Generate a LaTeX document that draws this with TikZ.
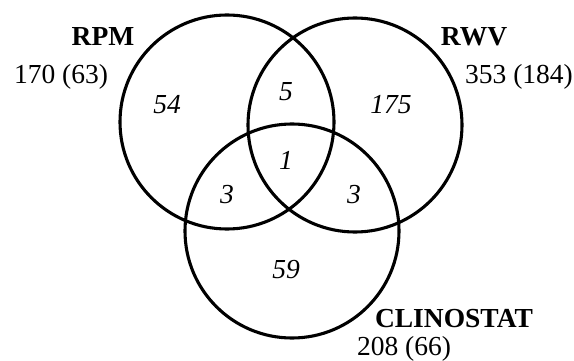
\documentclass[tikz,border=0pt]{standalone}
\usepackage{fontspec}
\setmainfont{Liberation Serif}
\begin{document}
\begin{tikzpicture}[x=1pt,y=-1pt,
  vennset/.style={circle,draw,line width=3.1pt,minimum size=214pt,inner sep=0pt},
  setname/.style={font=\fontsize{27.5}{31}\selectfont\bfseries,inner sep=0pt},
  settotal/.style={font=\fontsize{27.5}{31}\selectfont,inner sep=0pt},
  count/.style={font=\fontsize{27.5}{31}\selectfont\itshape,inner sep=0pt}]
  \useasboundingbox (0,0) rectangle (574,361);
  % the three sets
  \node[vennset] (rpm) at (227,122) {};
  \node[vennset] (rwv) at (355,125) {};
  \node[vennset] (clino) at (292,231) {};
  % set names and totals
  \node[setname] (rpmname) at (103,36) {RPM};
  \node[settotal] (rpmtotal) at (61,77) {170 (63)};
  \node[setname] (rwvname) at (474,37) {RWV};
  \node[settotal] (rwvtotal) at (519,77) {353 (184)};
  \node[setname] (clinoname) at (454,319) {CLINOSTAT};
  \node[settotal] (clinototal) at (404,349) {208 (66)};
  % region counts
  \node[count] (onlyrpm) at (167,105) {54};
  \node[count] (onlyrwv) at (391,105) {175};
  \node[count] (onlyclino) at (286,270) {59};
  \node[count] (rpmrwv) at (286,92) {5};
  \node[count] (all) at (286,160) {1};
  \node[count] (rpmclino) at (227,195) {3};
  \node[count] (rwvclino) at (354,195) {3};
\end{tikzpicture}
\end{document}
